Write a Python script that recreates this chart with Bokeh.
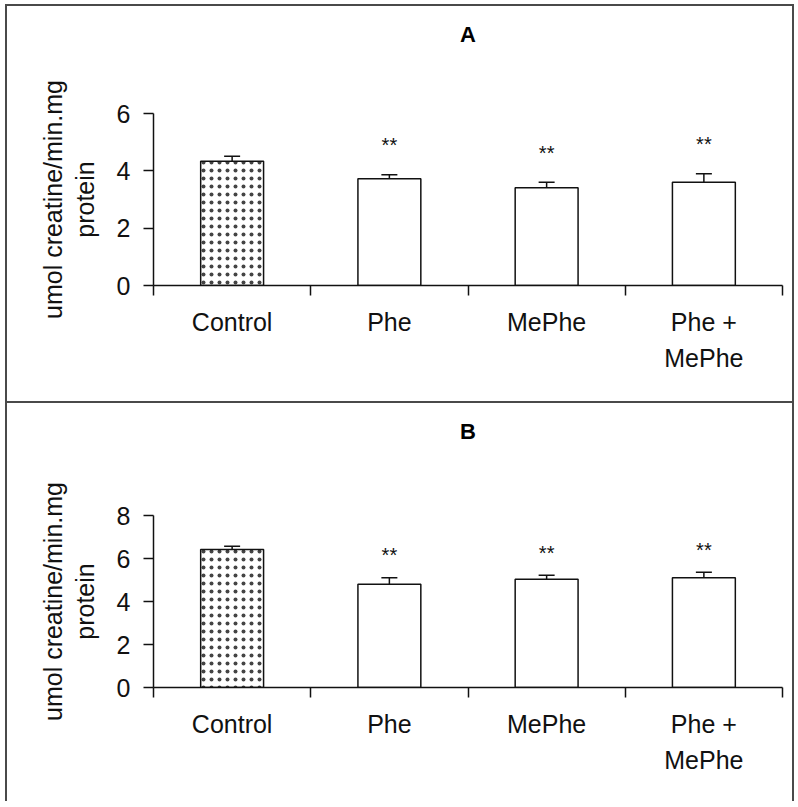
from bokeh.plotting import figure
from bokeh.layouts import column
from bokeh.models import Range1d, FixedTicker, Whisker, TeeHead, ColumnDataSource, Title
from bokeh.embed import file_html
from bokeh.resources import INLINE
from bokeh.core.properties import value

# ---- data ----
categories = ["Control", "Phe", "MePhe", "Phe +\nMePhe"]
a_mean = [4.33, 3.72, 3.41, 3.60]
a_se = [0.18, 0.14, 0.19, 0.30]
a_sig = ["", "**", "**", "**"]
b_mean = [6.42, 4.80, 5.03, 5.11]
b_se = [0.15, 0.31, 0.19, 0.25]
b_sig = ["", "**", "**", "**"]
a_yticks = [0, 2, 4, 6]
b_yticks = [0, 2, 4, 6, 8]
y_label = "umol creatine/min.mg\nprotein"

FONT = "Liberation Sans"
INK = "#111111"
BORDER = "#4a4a4a"


def make_panel(title, means, ses, sigs, yticks, height, mtop, mbottom, spacer, styles):
    n = len(categories)
    xs = [i + 0.5 for i in range(n)]
    uppers = [m + s for m, s in zip(means, ses)]
    hatch = ["dot" if c == "Control" else " " for c in categories]
    src = ColumnDataSource(dict(x=xs, top=means, lower=means, upper=uppers,
                                sig=sigs, sig_y=[u + 1.03 for u in uppers],
                                hatch=hatch))
    p = figure(width=789, height=height, output_backend="svg", toolbar_location=None,
               title=None,
               x_range=Range1d(0, n), y_range=Range1d(yticks[0], yticks[-1]),
               min_border_left=146, min_border_right=14,
               min_border_top=mtop, min_border_bottom=mbottom)
    p.outline_line_color = None
    p.xgrid.visible = False
    p.ygrid.visible = False
    p.background_fill_color = "white"
    p.border_fill_color = "white"
    p.styles = styles

    p.vbar(x="x", top="top", width=0.4, bottom=0, source=src,
           fill_color="white", line_color=INK, line_width=1.5,
           hatch_pattern="hatch", hatch_color="#444444", hatch_scale=8,
           hatch_weight=0.8)
    p.add_layout(Whisker(source=src, base="x", lower="lower", upper="upper",
                         line_color=INK, line_width=1.5, lower_head=None,
                         upper_head=TeeHead(size=16, line_color=INK, line_width=1.5)))
    p.text(x="x", y="sig_y", text="sig", source=src, text_align="center",
           text_baseline="middle", text_font=value(FONT), text_font_size="20px",
           text_color=INK)

    xa = p.xaxis[0]
    xa.ticker = FixedTicker(ticks=xs, minor_ticks=list(range(n + 1)))
    xa.major_label_overrides = {x: c for x, c in zip(xs, categories)}
    xa.major_tick_out = 0
    xa.major_tick_in = 0
    xa.minor_tick_out = 10
    xa.minor_tick_in = 0
    xa.minor_tick_line_color = INK
    xa.minor_tick_line_width = 1.5
    xa.axis_line_color = INK
    xa.axis_line_width = 1.5
    xa.major_label_standoff = 12
    xa.major_label_text_font = FONT
    xa.major_label_text_font_size = "25px"
    xa.major_label_text_color = INK
    xa.major_label_text_line_height = 1.3

    ya = p.yaxis[0]
    ya.ticker = FixedTicker(ticks=yticks, minor_ticks=[])
    ya.major_tick_out = 10
    ya.major_tick_in = 0
    ya.major_tick_line_color = INK
    ya.major_tick_line_width = 1.5
    ya.axis_line_color = INK
    ya.axis_line_width = 1.5
    ya.major_label_standoff = 13
    ya.major_label_text_font = FONT
    ya.major_label_text_font_size = "25px"
    ya.major_label_text_color = INK
    ya.axis_label = y_label
    ya.axis_label_text_font = FONT
    ya.axis_label_text_font_size = "25px"
    ya.axis_label_text_font_style = "normal"
    ya.axis_label_text_color = INK
    ya.axis_label_standoff = 15
    ya.axis_label_text_line_height = 1.12

    # blank spacer between frame and panel title, then the title itself
    p.add_layout(Title(text=" ", text_font_size="22px", standoff=spacer), "above")
    p.add_layout(Title(text=title, align="center", vertical_align="top", offset=-64,
                       standoff=28, text_font=FONT, text_font_size="22px",
                       text_font_style="bold", text_color="#000000"), "above")
    return p


pA = make_panel("A", a_mean, a_se, a_sig, a_yticks, 399, 107, 120, 24,
                {"border": "2px solid " + BORDER, "margin-left": "5px", "margin-top": "4px"})
pB = make_panel("B", b_mean, b_se, b_sig, b_yticks, 398, 112, 114, 29,
                {"border-left": "2px solid " + BORDER, "border-right": "2px solid " + BORDER,
                 "margin-left": "5px"})

layout = column(pA, pB, spacing=0)
open("out.html", "w").write(file_html(layout, INLINE))
